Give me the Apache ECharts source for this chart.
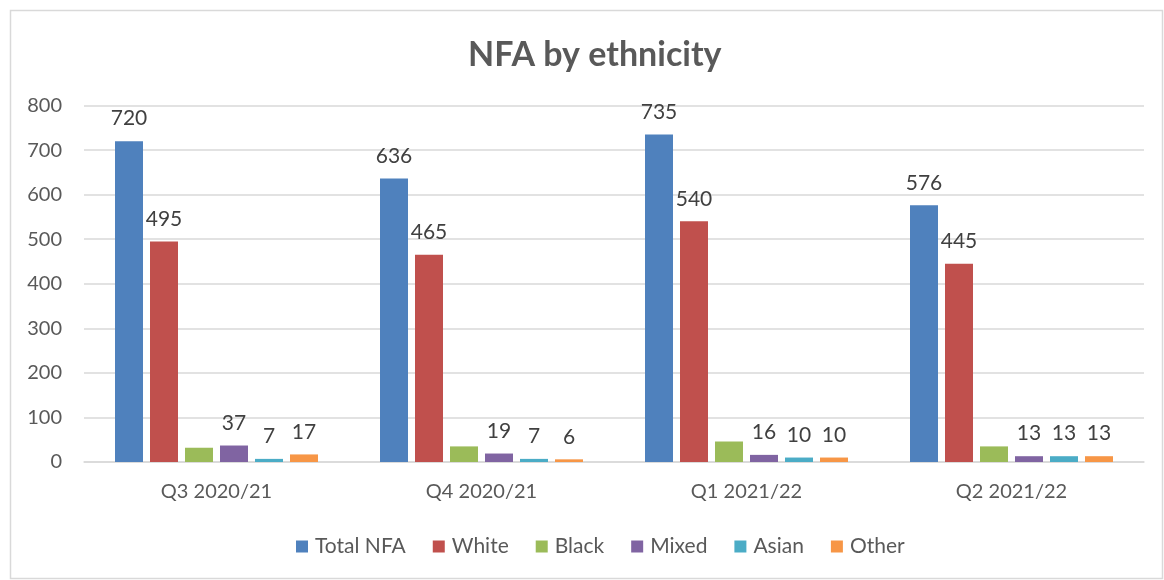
<!DOCTYPE html>
<html>
<head>
<meta charset="utf-8">
<script src="https://cdn.jsdelivr.net/npm/echarts@6/dist/echarts.min.js"></script>
<style>html,body{margin:0;padding:0;background:#fff}#c{width:1164px;height:580px}</style>
</head>
<body>
<div id="c"></div>
<script>
const categories = ['Q3 2020/21', 'Q4 2020/21', 'Q1 2021/22', 'Q2 2021/22'];
const seriesNames = ['Total NFA', 'White', 'Black', 'Mixed', 'Asian', 'Other'];
const totalNFA = [720, 636, 735, 576];
const white = [495, 465, 540, 445];
const black = [32, 35, 46, 35];
const mixed = [37, 19, 16, 13];
const asian = [7, 7, 10, 13];
const other = [17, 6, 10, 13];
const showLabels = [true, true, false, true, true, true];
const colors = ['#4f81bd', '#c0504d', '#9bbb59', '#8064a2', '#4bacc6', '#f79646'];
const values = [totalNFA, white, black, mixed, asian, other];
const FONT = 'Lato, "Open Sans", sans-serif';

const chart = echarts.init(document.getElementById('c'));
chart.setOption({
  animation: false,
  color: colors,
  textStyle: { fontFamily: FONT },
  graphic: [{
    type: 'rect', left: 8, top: 8,
    shape: { width: 1152, height: 568 },
    style: { fill: 'none', stroke: '#d9d9d9', lineWidth: 1.5 }
  }],
  title: {
    text: 'NFA by ethnicity', left: 463, top: 33,
    textStyle: { fontFamily: FONT, fontSize: 34, fontWeight: 'bold', color: '#595959' }
  },
  legend: {
    bottom: 18, left: 291, itemWidth: 12, itemHeight: 12, itemGap: 27,
    icon: 'rect',
    textStyle: { fontFamily: FONT, fontSize: 21, color: '#595959', padding: [0, 0, 0, 2] },
    data: seriesNames
  },
  grid: { left: 84, right: 20, top: 105.5, bottom: 118, containLabel: false },
  xAxis: {
    type: 'category', data: categories,
    axisLine: { lineStyle: { color: '#d9d9d9', width: 1.5 } },
    axisTick: { show: false },
    axisLabel: { fontFamily: FONT, fontSize: 20, color: '#595959', margin: 20 }
  },
  yAxis: {
    type: 'value', min: 0, max: 800, interval: 100,
    axisLine: { show: false }, axisTick: { show: false },
    splitLine: { lineStyle: { color: '#d9d9d9', width: 1.5 } },
    axisLabel: { fontFamily: FONT, fontSize: 20, color: '#595959', margin: 22 }
  },
  series: seriesNames.map((n, i) => ({
    name: n, type: 'bar', data: values[i],
    barGap: '25%', barCategoryGap: '23.4%',
    itemStyle: { color: colors[i] },
    label: {
      show: showLabels[i], position: 'top', distance: 12,
      fontFamily: FONT, fontSize: 21, color: '#404040'
    }
  }))
});
</script>
</body>
</html>
